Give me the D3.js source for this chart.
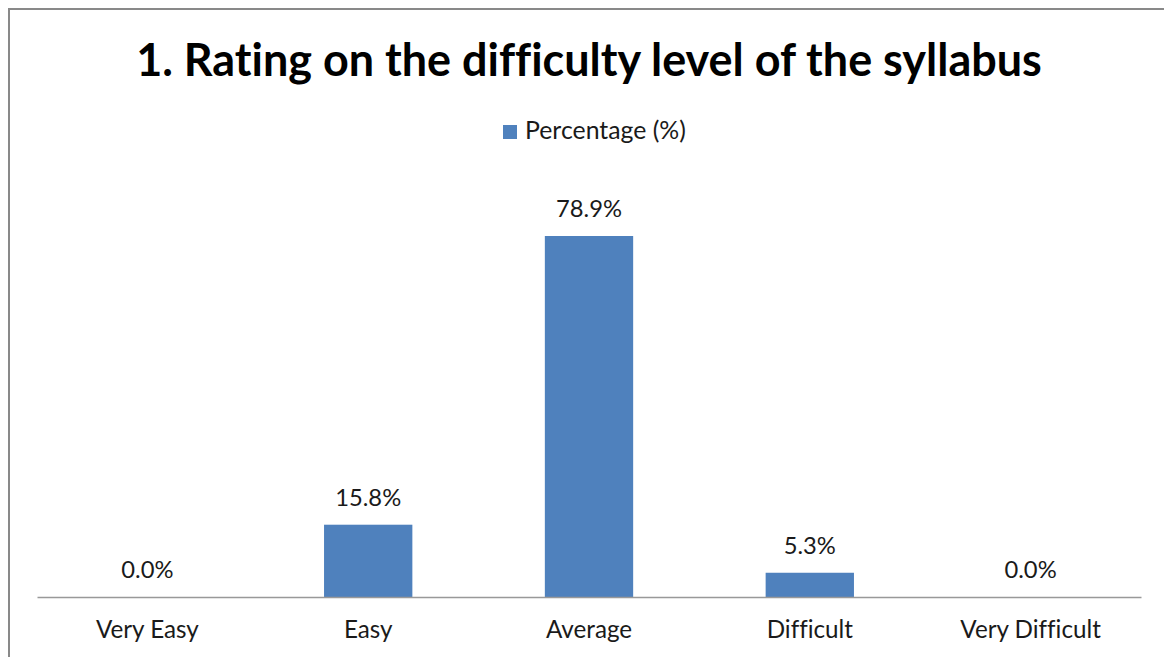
<!DOCTYPE html>
<html><head><meta charset="utf-8">
<script src="https://cdn.jsdelivr.net/npm/d3@7"></script>
<style>html,body{margin:0;padding:0;background:#fff;overflow:hidden} text{font-variant-ligatures:none;font-feature-settings:"liga" 0,"clig" 0,"dlig" 0}</style>
</head><body>
<svg id="chart" width="1164" height="657"></svg>
<script>
const categories = ["Very Easy", "Easy", "Average", "Difficult", "Very Difficult"];
const values = [0.0, 15.8, 78.9, 5.3, 0.0];
const seriesName = "Percentage (%)";
const title = "1. Rating on the difficulty level of the syllabus";

const svg = d3.select("#chart");
const font = "Lato, 'Open Sans', sans-serif";
const barColor = "#4F81BD";

// outer border (chart continues beyond the visible window)
svg.append("rect").attr("x", 9).attr("y", 9).attr("width", 1200).attr("height", 700)
  .attr("fill", "#fff").attr("stroke", "#898989").attr("stroke-width", 2);

const x0 = 37, x1 = 1141, yBase = 597, yTop = 236;
const x = d3.scaleBand().domain(categories).range([x0, x1]).paddingInner(0.6).paddingOuter(0.3);
const y = d3.scaleLinear().domain([0, 78.9]).range([yBase, yTop]);

function fit(sel, w) {
  sel.each(function(){
    const len = this.getComputedTextLength();
    const fs = parseFloat(d3.select(this).attr("font-size"));
    d3.select(this).attr("font-size", fs * w / len);
  });
}

// title
svg.append("text").attr("x", 589).attr("y", 76).attr("text-anchor", "middle")
  .attr("font-family", font).attr("font-weight", "bold").attr("font-size", 40)
  .attr("fill", "#000").text(title).call(fit, 906);

// legend
svg.append("rect").attr("x", 503).attr("y", 125).attr("width", 14).attr("height", 14).attr("fill", barColor);
svg.append("text").attr("x", 525).attr("y", 139).attr("font-family", font).attr("font-size", 20)
  .attr("fill", "#1a1a1a").text(seriesName).call(fit, 161);

// bars
svg.selectAll("rect.bar").data(values).join("rect").attr("class", "bar")
  .attr("x", (d, i) => x(categories[i])).attr("width", x.bandwidth())
  .attr("y", d => y(d)).attr("height", d => yBase - y(d)).attr("fill", barColor);

// axis line
const axis = svg.append("g").attr("transform", `translate(0,${yBase})`)
  .call(d3.axisBottom(x).tickSize(0).tickPadding(0));
axis.select(".domain").attr("stroke", "#999").attr("stroke-width", 1.5);
axis.selectAll(".tick text").remove();

// category labels
svg.selectAll("text.cat").data(categories).join("text").attr("class", "cat")
  .attr("x", d => x(d) + x.bandwidth() / 2).attr("y", 638).attr("text-anchor", "middle")
  .attr("font-family", font).attr("font-size", 20).attr("fill", "#1a1a1a").text(d => d);
fit(svg.selectAll("text.cat").filter(d => d === "Very Easy"), 103);
svg.selectAll("text.cat").attr("font-size", svg.select("text.cat").attr("font-size"));

// value labels
svg.selectAll("text.val").data(values).join("text").attr("class", "val")
  .attr("x", (d, i) => x(categories[i]) + x.bandwidth() / 2).attr("y", d => y(d) - 19)
  .attr("text-anchor", "middle").attr("font-family", font).attr("font-size", 20)
  .attr("fill", "#1a1a1a").text(d => d.toFixed(1) + "%");
fit(svg.selectAll("text.val").filter((d, i) => i === 2), 66);
svg.selectAll("text.val").attr("font-size", svg.selectAll("text.val").filter((d, i) => i === 2).attr("font-size"));
</script>
</body></html>
